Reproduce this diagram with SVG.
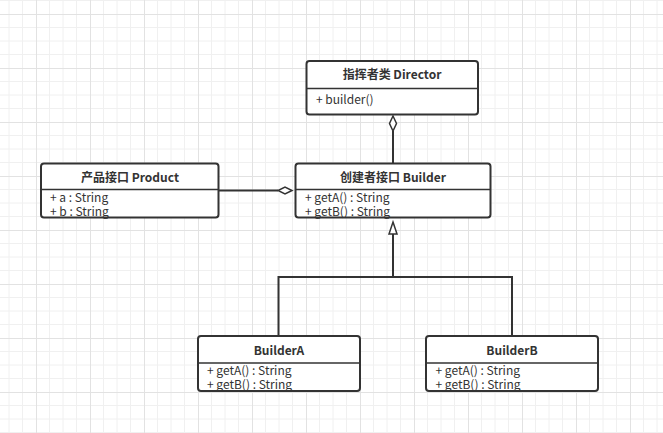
<svg xmlns="http://www.w3.org/2000/svg" width="663" height="433" viewBox="0 0 663 433">
<style>
.bg{fill:#ffffff}
.box{fill:#ffffff;stroke:none}
.border{fill:none;stroke:#333333;stroke-width:2}
.div{stroke:#333333;stroke-width:1.5}
.title{font-family:"Noto Sans CJK SC","Noto Sans",sans-serif;font-size:12px;font-weight:bold;fill:#333333;text-anchor:middle}
.attr{font-family:"Noto Sans CJK SC","Noto Sans",sans-serif;font-size:12px;fill:#333333}
.line{fill:none;stroke:#333333;stroke-width:2}
.dia{fill:#ffffff;stroke:#333333;stroke-width:1.5}
</style>
<defs>
<pattern id="grid" patternUnits="userSpaceOnUse" x="36" y="14" width="54" height="54">
<path d="M13.5 0V54M27 0V54M40.5 0V54M0 13.5H54M0 27H54M0 40.5H54" stroke="#f0f0f0" stroke-width="1" fill="none"/>
<path d="M0.5 0V54M0 0.5H54" stroke="#e2e2e2" stroke-width="1" fill="none"/>
</pattern>
</defs>
<rect class="bg" x="0" y="0" width="663" height="433"/>
<rect x="0" y="0" width="663" height="433" fill="url(#grid)"/>
<g id="connectors">
<line class="line" x1="393" y1="131" x2="393" y2="163"/>
<path class="dia" d="M393 116 L396.5 123.5 L393 131 L389.5 123.5 Z"/>
<line class="line" x1="218" y1="190.5" x2="278" y2="190.5"/>
<path class="dia" d="M292 190.5 L285 194 L278 190.5 L285 187 Z"/>
<path class="line" d="M393 234 V277 M278.5 335.5 V277 H512 V335.5"/>
<path class="dia" d="M393 222 L397 234 L389 234 Z"/>
</g>
<g id="director">
<rect class="box" x="306.5" y="61" width="171.5" height="53.5" rx="3"/>
<text class="title" x="392" y="79">指挥者类 Director</text>
<text class="attr" x="316" y="104">+ builder()</text>
<line class="div" x1="306.5" y1="88.5" x2="478" y2="88.5"/>
<rect class="border" x="306.5" y="61" width="171.5" height="53.5" rx="3"/>
</g>
<g id="product">
<rect class="box" x="41" y="163.5" width="177.5" height="54" rx="3"/>
<text class="title" x="130" y="182">产品接口 Product</text>
<text class="attr" x="50" y="202">+ a : String</text>
<text class="attr" x="50" y="215.5">+ b : String</text>
<line class="div" x1="41" y1="189.5" x2="218.5" y2="189.5"/>
<rect class="border" x="41" y="163.5" width="177.5" height="54" rx="3"/>
</g>
<g id="builder">
<rect class="box" x="295.5" y="163.5" width="195" height="54" rx="3"/>
<text class="title" x="393" y="182">创建者接口 Builder</text>
<text class="attr" x="305" y="202">+ getA() : String</text>
<text class="attr" x="305" y="215.5">+ getB() : String</text>
<line class="div" x1="295.5" y1="189.5" x2="490.5" y2="189.5"/>
<rect class="border" x="295.5" y="163.5" width="195" height="54" rx="3"/>
</g>
<g id="builderA">
<rect class="box" x="198" y="336" width="162" height="55" rx="3"/>
<text class="title" x="279" y="355">BuilderA</text>
<text class="attr" x="207" y="375">+ getA() : String</text>
<text class="attr" x="207" y="388.5">+ getB() : String</text>
<line class="div" x1="198" y1="363" x2="360" y2="363"/>
<rect class="border" x="198" y="336" width="162" height="55" rx="3"/>
</g>
<g id="builderB">
<rect class="box" x="426" y="336" width="172" height="55" rx="3"/>
<text class="title" x="512" y="355">BuilderB</text>
<text class="attr" x="435.5" y="375">+ getA() : String</text>
<text class="attr" x="435.5" y="388.5">+ getB() : String</text>
<line class="div" x1="426" y1="363" x2="598" y2="363"/>
<rect class="border" x="426" y="336" width="172" height="55" rx="3"/>
</g>
</svg>
